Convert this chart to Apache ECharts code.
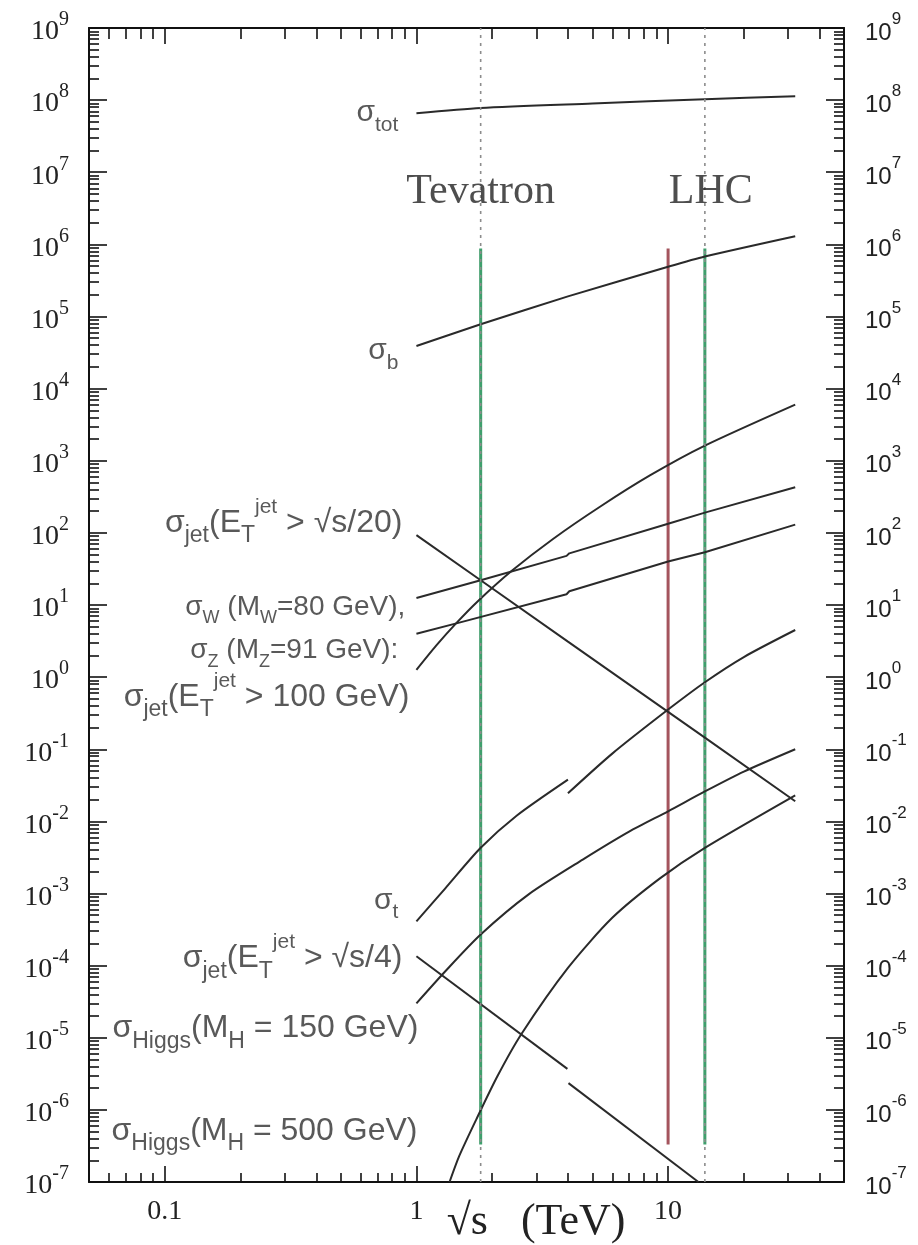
<!DOCTYPE html>
<html>
<head>
<meta charset="utf-8">
<title>Hadron collider cross sections vs √s</title>
<script src="https://cdn.jsdelivr.net/npm/echarts@6/dist/echarts.min.js"></script>
<style>
html, body { margin: 0; padding: 0; background: #ffffff; }
#chart { width: 918px; height: 1245px; }
</style>
</head>
<body>
<div id="chart"></div>
<script>
// ---- Cross sections versus collision energy √s (TeV) ----
const energyTot = [1, 1.8, 5, 14, 32];
const sigmaTot = [6.6e7, 7.8e7, 9.0e7, 1.03e8, 1.13e8];

const energyB = [1, 1.8, 4, 10, 14, 32];
const sigmaB = [3.9e4, 7.8e4, 1.9e5, 4.9e5, 6.8e5, 1.3e6];

const energyJet20 = [1, 1.8, 4, 10, 14, 32];
const sigmaJet20 = [93, 22, 3.1, 0.33, 0.145, 0.019];

const energyW = [1, 1.8, 3.95, 4.05, 10, 14, 32];
const sigmaW = [12.5, 22, 48, 52, 134, 191, 430];

const energyZ = [1, 1.48, 3.95, 4.05, 10, 14, 32];
const sigmaZ = [4.0, 5.7, 14.1, 15.5, 40, 54, 130];

const energyJet100 = [1, 1.2, 1.44, 1.75, 2.4, 3.5, 5.4, 8.5, 14, 32];
const sigmaJet100 = [1.26, 2.75, 5.6, 11.2, 30, 83, 234, 630, 1620, 6000];

// top: p-pbar branch and p-p branch
const energyTopPpbar = [1, 1.3, 1.8, 2.5, 4];
const sigmaTopPpbar = [4.1e-4, 1.17e-3, 4.3e-3, 1.2e-2, 3.8e-2];
const energyTopPp = [4, 6, 10, 14, 20, 32];
const sigmaTopPp = [2.45e-2, 8.7e-2, 0.355, 0.85, 1.9, 4.5];

// jets above √s/4: p-pbar branch and p-p branch
const energyJet4Ppbar = [1, 3.98];
const sigmaJet4Ppbar = [1.35e-4, 3.7e-6];
const energyJet4Pp = [4.02, 13.2];
const sigmaJet4Pp = [2.35e-6, 1e-7];

const energyH150 = [1, 1.3, 1.8, 2.8, 4.58, 7, 10, 14, 20, 32];
const sigmaH150 = [3.0e-5, 8.3e-5, 2.7e-4, 9.8e-4, 2.95e-3, 7.2e-3, 1.38e-2, 2.6e-2, 4.9e-2, 0.1];

const energyH500 = [1.354, 1.48, 1.73, 2.1, 2.61, 4, 6, 9.28, 14, 32];
const sigmaH500 = [1e-7, 2.3e-7, 7.4e-7, 2.95e-6, 1.12e-5, 9.3e-5, 4.6e-4, 1.62e-3, 4.3e-3, 2.3e-2];

// ---- Colliders ----
const colliderNames = ['Tevatron', 'LHC'];
const colliderEnergies = [1.8, 14];
const lhcAltEnergies = [10];
const colliderBand = [3.3e-7, 8.8e5];

// ---- Axes ----
const xMin = 0.05, xMax = 50;
const yMin = 1e-7, yMax = 1e9;
const xMajorTicks = [0.1, 1, 10];
const xTickLabels = ['0.1', '1', '10'];
const xDecades = [0.01, 0.1, 1, 10];
const yExponents = [-7, -6, -5, -4, -3, -2, -1, 0, 1, 2, 3, 4, 5, 6, 7, 8, 9];
const minorSteps = [2, 3, 4, 5, 6, 7, 8, 9];

const yMajorTicks = yExponents.map(e => Number('1e' + e));
const yMinorTicks = [];
yExponents.slice(0, -1).forEach(e => minorSteps.forEach(k => yMinorTicks.push(Number(k + 'e' + e))));
const xMinorTicks = [];
xDecades.forEach(d => minorSteps.forEach(k => {
  const v = Number((k * d).toPrecision(6));
  if (v > xMin && v < xMax) xMinorTicks.push(v);
}));

// ---- Label typography ----
const textColor = '#303030';
const sansFont = 'Liberation Sans, Arial, sans-serif';
const serifFont = 'Liberation Serif, Times New Roman, serif';

function curveRich(main, sub, sup) {
  return {
    m: { fontFamily: sansFont, fontSize: main, color: textColor, verticalAlign: 'middle' },
    sub: { fontFamily: sansFont, fontSize: sub, color: textColor, verticalAlign: 'middle', padding: [Math.round(main * 0.8), 0, 0, 0] },
    sup: { fontFamily: sansFont, fontSize: sup, color: textColor, verticalAlign: 'middle', padding: [0, 0, Math.round(main * 1.0), 0] }
  };
}
const richRegular = curveRich(30, 21, 19);
const richLarge = curveRich(32, 23, 21);
const richSmall = curveRich(28, 18, 17);

// ---- Curve definitions (segments share one label) ----
const curves = [
  { key: 'tot', segments: [[energyTot, sigmaTot]], label: '{m|σ}{sub|tot}', rich: richRegular, smooth: 0.25 },
  { key: 'b', segments: [[energyB, sigmaB]], label: '{m|σ}{sub|b}', rich: richRegular, smooth: 0.25 },
  { key: 'jet20', segments: [[energyJet20, sigmaJet20]], label: '{m|σ}{sub|jet}{m|(E}{sub|T}{sup|jet}{m| > √s/20)}', rich: richLarge, smooth: false },
  { key: 'W', segments: [[energyW, sigmaW]], label: '{m|σ}{sub|W}{m| (M}{sub|W}{m|=80 GeV),}', rich: richSmall, smooth: false },
  { key: 'Z', segments: [[energyZ, sigmaZ]], label: '{m|σ}{sub|Z}{m| (M}{sub|Z}{m|=91 GeV):}', rich: richSmall, smooth: false },
  { key: 'jet100', segments: [[energyJet100, sigmaJet100]], label: '{m|σ}{sub|jet}{m|(E}{sub|T}{sup|jet}{m| > 100 GeV)}', rich: richLarge, smooth: 0.25 },
  { key: 't', segments: [[energyTopPpbar, sigmaTopPpbar], [energyTopPp, sigmaTopPp]], label: '{m|σ}{sub|t}', rich: richRegular, smooth: 0.25 },
  { key: 'jet4', segments: [[energyJet4Ppbar, sigmaJet4Ppbar], [energyJet4Pp, sigmaJet4Pp]], label: '{m|σ}{sub|jet}{m|(E}{sub|T}{sup|jet}{m| > √s/4)}', rich: richLarge, smooth: false },
  { key: 'h150', segments: [[energyH150, sigmaH150]], label: '{m|σ}{sub|Higgs}{m|(M}{sub|H}{m| = 150 GeV)}', rich: richLarge, smooth: 0.25 },
  { key: 'h500', segments: [[energyH500, sigmaH500]], label: '{m|σ}{sub|Higgs}{m|(M}{sub|H}{m| = 500 GeV)}', rich: richLarge, smooth: 0.25 }
];

// Label placement relative to the first point of each curve (pixels)
const labelPlacement = {
  tot: { distance: 18, dy: 0 },
  b: { distance: 18, dy: 5 },
  jet20: { distance: 14, dy: -12 },
  W: { distance: 11, dy: 9 },
  Z: { distance: 18, dy: 17 },
  jet100: { distance: 7, dy: 27 },
  t: { distance: 18, dy: -21 },
  jet4: { distance: 14, dy: 2 },
  h150: { distance: -2, dy: 25 },
  h500: { distance: 32, dy: -51 }
};

const ink = '#111111';
const curveColor = '#2a2a2a';

const series = [];

// Dotted markers of the collider energies over the full height
colliderEnergies.forEach(e => {
  series.push({
    type: 'line', silent: true, symbol: 'none', z: 6,
    data: [[e, yMin], [e, yMax]],
    lineStyle: { color: '#8c8c8c', width: 1.6, type: [3, 5] }
  });
});
// Green collider bands
colliderEnergies.forEach(e => {
  series.push({
    type: 'line', silent: true, symbol: 'none', z: 2,
    data: [[e, colliderBand[0]], [e, colliderBand[1]]],
    lineStyle: { color: '#3f9f6c', width: 3 }
  });
});
// Red line at 10 TeV
lhcAltEnergies.forEach(e => {
  series.push({
    type: 'line', silent: true, symbol: 'none', z: 2,
    data: [[e, colliderBand[0]], [e, colliderBand[1]]],
    lineStyle: { color: '#a4545d', width: 3 }
  });
});

// Cross-section curves
curves.forEach(c => {
  c.segments.forEach(([xs, ys]) => {
    series.push({
      type: 'line', silent: true, symbol: 'none', z: 4, smooth: c.smooth,
      data: xs.map((x, i) => [x, ys[i]]),
      lineStyle: { color: curveColor, width: 2 }
    });
  });
});

// Curve labels anchored at each curve's first point
series.push({
  type: 'scatter', silent: true, z: 8, symbolSize: 0.1,
  itemStyle: { color: 'transparent' },
  data: curves.map(c => {
    const [xs, ys] = c.segments[0];
    const p = labelPlacement[c.key];
    return {
      value: [xs[0], ys[0]],
      label: {
        show: true, position: 'left', distance: p.distance, offset: [0, p.dy],
        formatter: c.label, rich: c.rich
      }
    };
  })
});

// Collider names above the bands
series.push({
  type: 'scatter', silent: true, z: 8, symbolSize: 0.1,
  itemStyle: { color: 'transparent' },
  data: colliderEnergies.map((e, i) => ({
    value: [e, colliderBand[1]],
    label: {
      show: true, position: 'top', distance: 35, offset: [i === 1 ? 6 : 0, 0],
      formatter: colliderNames[i],
      fontFamily: serifFont, fontSize: 42, lineHeight: 42, color: '#222'
    }
  }))
});

function xLabel(v) {
  const i = xMajorTicks.findIndex(t => Math.abs(v - t) / t < 1e-6);
  return i >= 0 ? xTickLabels[i] : '';
}
function yExp(v) { return Math.round(Math.log10(v)); }

const hiddenParts = { splitLine: { show: false }, minorTick: { show: false }, minorSplitLine: { show: false } };

function xAxisDef(position, ticks, len, withLine, withLabel) {
  return Object.assign({
    type: 'log', logBase: 10, min: xMin, max: xMax, position: position,
    axisLine: { show: withLine, lineStyle: { color: ink, width: 2 } },
    axisTick: { show: true, inside: true, length: len, customValues: ticks, lineStyle: { color: ink, width: 1.6 } },
    axisLabel: withLabel ? {
      show: true, customValues: xMajorTicks, margin: 16, formatter: xLabel,
      fontFamily: serifFont, fontSize: 28, lineHeight: 28, color: '#222'
    } : { show: false }
  }, hiddenParts);
}

function yAxisDef(position, ticks, len, withLine, labelStyle) {
  return Object.assign({
    type: 'log', logBase: 10, min: yMin, max: yMax, position: position,
    axisLine: { show: withLine, lineStyle: { color: ink, width: 2 } },
    axisTick: { show: true, inside: true, length: len, customValues: ticks, lineStyle: { color: ink, width: 1.6 } },
    axisLabel: labelStyle || { show: false }
  }, hiddenParts);
}

const leftLabels = {
  show: true, customValues: yMajorTicks, margin: 20, align: 'right',
  formatter: v => '{b|10}{s|' + yExp(v) + '}',
  rich: {
    b: { fontFamily: serifFont, fontSize: 28, lineHeight: 36, verticalAlign: 'bottom', color: '#222' },
    s: { fontFamily: serifFont, fontSize: 20, verticalAlign: 'top', color: '#222' }
  }
};
const rightLabels = {
  show: true, customValues: yMajorTicks, margin: 21, align: 'left',
  formatter: v => '{b|10}{s|' + yExp(v) + '}',
  rich: {
    b: { fontFamily: sansFont, fontSize: 24, lineHeight: 34, verticalAlign: 'bottom', color: '#222' },
    s: { fontFamily: sansFont, fontSize: 17, verticalAlign: 'top', color: '#222' }
  }
};

const bottomAxis = xAxisDef('bottom', xMajorTicks, 16, true, true);
bottomAxis.name = '√s   (TeV)';
bottomAxis.nameLocation = 'middle';
bottomAxis.nameGap = 18;
bottomAxis.nameMoveOverlap = false;
bottomAxis.nameTextStyle = { fontFamily: serifFont, fontSize: 44, lineHeight: 44, color: '#222', padding: [0, 0, 0, 139] };

const option = {
  backgroundColor: '#ffffff',
  animation: false,
  grid: { left: 89, right: 74, top: 28, bottom: 63, containLabel: false, outerBoundsMode: 'none' },
  xAxis: [
    bottomAxis,
    xAxisDef('top', xMajorTicks, 16, true, false),
    xAxisDef('bottom', xMinorTicks, 9, false, false),
    xAxisDef('top', xMinorTicks, 11, false, false)
  ],
  yAxis: [
    yAxisDef('left', yMajorTicks, 18, true, leftLabels),
    yAxisDef('right', yMajorTicks, 18, true, rightLabels),
    yAxisDef('left', yMinorTicks, 10, false, null),
    yAxisDef('right', yMinorTicks, 10, false, null)
  ],
  series: series
};

const chart = echarts.init(document.getElementById('chart'), null, { renderer: 'canvas' });
chart.setOption(option);
</script>
</body>
</html>
